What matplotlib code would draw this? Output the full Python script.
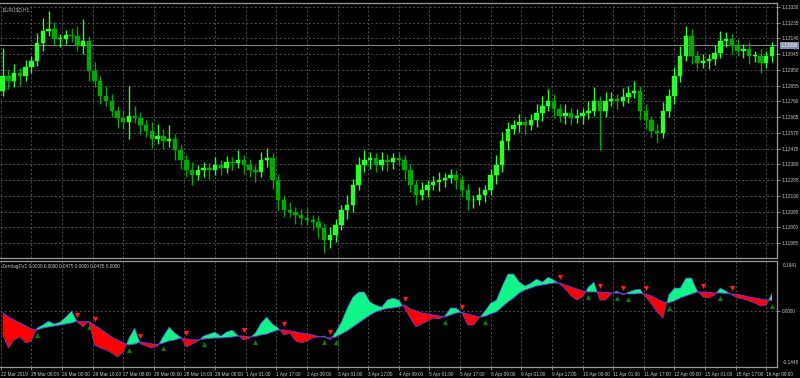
import matplotlib

matplotlib.use("Agg")

import matplotlib.pyplot as plt  # noqa: E402
import matplotlib.transforms as mtransforms  # noqa: E402
import numpy as np  # noqa: E402

plt.rcParams["font.family"] = ["Liberation Sans", "DejaVu Sans"]

# EURUSD H1 in 3-bar steps
first_open = 1.12825
closes = [
    1.12915, 1.12885, 1.12933, 1.12915, 1.12969, 1.13005, 1.13114, 1.13186, 1.13198, 1.13138,
    1.13138, 1.13162, 1.13156, 1.13096, 1.13126, 1.12945, 1.12885, 1.12795, 1.12765, 1.12705,
    1.12657, 1.12633, 1.12675, 1.12657, 1.12615, 1.12584, 1.12536, 1.12554, 1.12524, 1.12536,
    1.12464, 1.12404, 1.12344, 1.12314, 1.12344, 1.12356, 1.12344, 1.12374, 1.12356, 1.12392,
    1.12386, 1.12404, 1.12374, 1.12344, 1.12332, 1.12404, 1.12416, 1.12284, 1.12164, 1.12103,
    1.12091, 1.12073, 1.12055, 1.12043, 1.12031, 1.11995, 1.11923, 1.11953, 1.12013, 1.12103,
    1.12133, 1.12254, 1.12374, 1.12404, 1.12416, 1.12374, 1.12404, 1.12392, 1.12416, 1.12404,
    1.12344, 1.12254, 1.12194, 1.12224, 1.12254, 1.12272, 1.12284, 1.12296, 1.12314, 1.12284,
    1.12224, 1.12164, 1.12164, 1.12194, 1.12224, 1.12314, 1.12374, 1.12524, 1.12596, 1.12615,
    1.12633, 1.12615, 1.12645, 1.12693, 1.12735, 1.12765, 1.12717, 1.12675, 1.12693, 1.12657,
    1.12675, 1.12693, 1.12705, 1.12765, 1.12705, 1.12765, 1.12777, 1.12765, 1.12789, 1.12813,
    1.12825, 1.12705, 1.12645, 1.12584, 1.12572, 1.12705, 1.12795, 1.12915, 1.13035, 1.13156,
    1.13035, 1.12993, 1.13005, 1.13017, 1.13053, 1.13126, 1.13138, 1.13096, 1.13065, 1.13077,
    1.13035, 1.13035, 1.12993, 1.13035, 1.13090,
]
wick_up_pips = [
    17, 4, 5, 3, 4, 3, 6, 8, 11, 4, 3, 3, 4, 6, 13, 3, 5, 3, 6, 4,
    3, 5, 18, 6, 4, 3, 5, 7, 4, 8, 3, 4, 3, 5, 3, 4, 3, 5, 3, 4,
    3, 6, 3, 4, 3, 5, 6, 3, 4, 3, 5, 3, 4, 6, 3, 4, 3, 5, 4, 3,
    6, 4, 5, 6, 4, 3, 5, 4, 3, 4, 3, 4, 3, 5, 3, 4, 5, 3, 4, 3,
    3, 4, 3, 5, 3, 4, 6, 5, 4, 3, 5, 3, 4, 5, 6, 7, 4, 3, 5, 3,
    4, 3, 6, 8, 3, 5, 4, 3, 5, 4, 6, 3, 4, 3, 4, 5, 4, 5, 6, 6,
    4, 3, 4, 3, 5, 6, 4, 3, 4, 3, 4, 3, 4, 3, 3,
]
wick_dn_pips = [
    3, 5, 4, 6, 3, 4, 3, 5, 3, 4, 5, 3, 4, 3, 5, 6, 4, 5, 3, 4,
    6, 4, 10, 3, 5, 4, 6, 3, 5, 4, 6, 5, 4, 6, 3, 4, 5, 3, 4, 3,
    4, 3, 5, 4, 6, 3, 4, 5, 6, 4, 3, 5, 4, 3, 5, 6, 8, 5, 4, 3,
    5, 4, 3, 4, 5, 4, 3, 5, 4, 3, 5, 4, 6, 3, 4, 3, 5, 4, 3, 5,
    4, 6, 5, 3, 4, 3, 5, 4, 6, 3, 4, 5, 3, 4, 5, 3, 6, 4, 5, 4,
    3, 5, 4, 3, 24, 4, 3, 5, 3, 4, 3, 6, 5, 4, 6, 3, 4, 5, 4, 3,
    5, 4, 3, 5, 4, 3, 4, 5, 3, 4, 5, 4, 6, 3, 4,
]
current_price = 1.13098

# Zerolag indicator (main line and signal line), same 3-bar steps
zl_main = [
    -0.0931, -0.1436, -0.1125, -0.1009, -0.1242, -0.1164, -0.0660, -0.0543, -0.0388, -0.0504,
    -0.0427, -0.0233, 0.0000, -0.0427, -0.0621, -0.0388, -0.1319, -0.1436, -0.1513, -0.1630,
    -0.1785, -0.1591, -0.1048, -0.0660, -0.1280, -0.1358, -0.1436, -0.1358, -0.0970, -0.0621,
    -0.0854, -0.1009, -0.1397, -0.1280, -0.1164, -0.0970, -0.0892, -0.0815, -0.0970, -0.0815,
    -0.0737, -0.0951, -0.1125, -0.1048, -0.0854, -0.0466, -0.0233, -0.0504, -0.0660, -0.0931,
    -0.0854, -0.1164, -0.1242, -0.1164, -0.1048, -0.1009, -0.0970, -0.1125, -0.0815, -0.0427,
    0.0116, 0.0543, 0.0737, 0.0737, 0.0349, 0.0233, 0.0155, 0.0427, 0.0504, 0.0427,
    0.0116, -0.0272, -0.0621, -0.0504, -0.0388, -0.0272, -0.0310, -0.0194, 0.0116, 0.0116,
    -0.0078, -0.0543, -0.0543, -0.0272, 0.0000, 0.0310, 0.0427, 0.0970, 0.1436, 0.1436,
    0.1125, 0.0970, 0.1086, 0.1242, 0.1125, 0.1319, 0.1203, 0.1048, 0.0854, 0.0582,
    0.0427, 0.0543, 0.0931, 0.1125, 0.0427, 0.0427, 0.0660, 0.0776, 0.0621, 0.0737,
    0.0815, 0.0854, 0.0543, 0.0272, -0.0039, -0.0272, 0.0621, 0.0892, 0.0892, 0.1280,
    0.1280, 0.0776, 0.0543, 0.0504, 0.0621, 0.0892, 0.0776, 0.0621, 0.0504, 0.0466,
    0.0388, 0.0310, 0.0194, 0.0233, 0.0698,
]
zl_signal = [
    -0.0078, -0.0233, -0.0349, -0.0466, -0.0582, -0.0698, -0.0737, -0.0660, -0.0621, -0.0582,
    -0.0543, -0.0504, -0.0466, -0.0388, -0.0427, -0.0407, -0.0543, -0.0698, -0.0854, -0.1009,
    -0.1125, -0.1242, -0.1319, -0.1280, -0.1203, -0.1242, -0.1280, -0.1300, -0.1242, -0.1164,
    -0.1125, -0.1048, -0.1086, -0.1125, -0.1125, -0.1086, -0.1067, -0.1048, -0.1048, -0.1028,
    -0.1009, -0.0970, -0.0970, -0.1009, -0.0989, -0.0931, -0.0892, -0.0815, -0.0737, -0.0737,
    -0.0776, -0.0815, -0.0854, -0.0892, -0.0931, -0.0989, -0.1009, -0.1048, -0.1009, -0.0892,
    -0.0776, -0.0621, -0.0466, -0.0310, -0.0155, -0.0039, 0.0039, 0.0097, 0.0116, 0.0155,
    0.0233, 0.0078, 0.0000, -0.0078, -0.0116, -0.0155, -0.0194, -0.0233, -0.0155, -0.0078,
    -0.0058, -0.0116, -0.0175, -0.0233, -0.0213, -0.0116, -0.0039, 0.0155, 0.0349, 0.0504,
    0.0698, 0.0815, 0.0892, 0.0970, 0.1009, 0.1048, 0.1086, 0.1086, 0.1009, 0.0931,
    0.0854, 0.0776, 0.0737, 0.0737, 0.0737, 0.0718, 0.0698, 0.0698, 0.0679, 0.0660,
    0.0660, 0.0679, 0.0660, 0.0582, 0.0466, 0.0349, 0.0310, 0.0388, 0.0504, 0.0582,
    0.0660, 0.0737, 0.0737, 0.0718, 0.0698, 0.0698, 0.0679, 0.0660, 0.0640, 0.0601,
    0.0543, 0.0504, 0.0466, 0.0427, 0.0407,
]
zl_title = "ZerolagFV1 0.0000 0.0000 0.0475 0.0000 0.0475 0.0000"
zl_top_label = "0.1941"
zl_bottom_label = "-0.1448"

price_ticks = [
    1.13330, 1.13235, 1.13140, 1.13045, 1.12950, 1.12855, 1.12760, 1.12665,
    1.12570, 1.12475, 1.12380, 1.12285, 1.12190, 1.12095, 1.12000, 1.11905,
]
time_labels = [
    "22 Mar 2019", "25 Mar 08:00", "26 Mar 00:00", "26 Mar 16:00", "27 Mar 08:00",
    "28 Mar 00:00", "28 Mar 16:00", "29 Mar 08:00", "1 Apr 01:00", "1 Apr 17:00",
    "2 Apr 09:00", "3 Apr 01:00", "3 Apr 17:00", "4 Apr 09:00", "5 Apr 01:00",
    "5 Apr 17:00", "8 Apr 09:00", "9 Apr 01:00", "9 Apr 17:00", "10 Apr 09:00",
    "11 Apr 01:00", "11 Apr 17:00", "12 Apr 09:00", "15 Apr 01:00", "15 Apr 17:00",
    "16 Apr 09:00",
]

BARS_PER_CANDLE = 3
BARS_PER_LABEL = 16
BG = "black"
GRID = "#5a5a5a"
TEXT = "#c8c8c8"
BORDER = "#9a9a9a"
BULL = "#2cff2c"
BEAR = "#00a800"
UP_FILL = "#10f58a"
DOWN_FILL = "#ff0000"
LINE = "#6a3cd0"
FS = 3.4

W, H = 800, 378
fig = plt.figure(figsize=(W / 100, H / 100), dpi=100, facecolor=BG)
ax = fig.add_axes([0, 1 - 258 / H, 777 / W, 255 / H], facecolor=BG)
axi = fig.add_axes([0, 1 - 367 / H, 777 / W, 106 / H], facecolor=BG)

closes_a = np.array(closes)
opens_a = np.concatenate([[first_open], closes_a[:-1]])
highs = np.maximum(opens_a, closes_a) + np.array(wick_up_pips) * 1e-4
lows = np.minimum(opens_a, closes_a) - np.array(wick_dn_pips) * 1e-4
xs = np.arange(len(closes)) * BARS_PER_CANDLE + 1
time_ticks = np.arange(len(time_labels)) * BARS_PER_LABEL
xlim = (-0.4, 405.6)

# candles
bull = closes_a >= opens_a
colors = np.where(bull, BULL, BEAR)
ax.vlines(xs, lows, highs, colors=colors, lw=1.0, zorder=3)
bodies = np.maximum(np.abs(closes_a - opens_a), 0.00003)
ax.bar(xs, bodies, bottom=np.minimum(opens_a, closes_a), width=2.3,
       color=colors, edgecolor=colors, lw=0.3, zorder=3)

ax.axhline(current_price, color="#808080", lw=0.8, zorder=2)
ax.set_xlim(*xlim)
ax.set_ylim(1.11815, 1.13354)
ax.set_yticks(price_ticks)
ax.set_yticklabels([f"{p:.5f}" for p in price_ticks])
ax.set_xticks(time_ticks)
ax.tick_params(axis="x", bottom=False, labelbottom=False)
ax.yaxis.tick_right()
ax.tick_params(axis="y", colors=BORDER, labelcolor=TEXT, labelsize=FS,
               length=2, width=0.6, pad=1.2)
ax.grid(True, color=GRID, lw=0.6, ls=(0, (2.5, 2.5)))
trans = mtransforms.blended_transform_factory(ax.transAxes, ax.transData)
ax.text(1.0045, current_price, f"{current_price:.5f}", transform=trans,
        fontsize=FS, color="white", va="center", ha="left",
        bbox=dict(boxstyle="square,pad=0.2", fc="#8491a8", ec="none"),
        zorder=6)
ax.text(0.003, 0.985, "EURUSD,H1", transform=ax.transAxes, fontsize=FS,
        color=TEXT, va="top", ha="left")

# indicator
zm = np.array(zl_main)
zs = np.array(zl_signal)
axi.fill_between(xs, zm, zs, where=zm >= zs, interpolate=True,
                 color=UP_FILL, lw=0, zorder=2)
axi.fill_between(xs, zm, zs, where=zm < zs, interpolate=True,
                 color=DOWN_FILL, lw=0, zorder=2)
axi.plot(xs, zs, color=LINE, lw=0.7, zorder=3)
axi.plot(xs, zm, color=LINE, lw=0.5, zorder=3)

diff = zm - zs
cross_up = np.where((diff[:-1] < 0) & (diff[1:] >= 0))[0] + 1
cross_dn = np.where((diff[:-1] >= 0) & (diff[1:] < 0))[0] + 1
axi.scatter(xs[cross_up], np.minimum(zm, zs)[cross_up] - 0.02, marker="^",
            s=14, color="#0a7a0a", lw=0, zorder=4)
axi.scatter(xs[cross_dn], np.maximum(zm, zs)[cross_dn] + 0.022, marker="v",
            s=14, color="#ff2020", lw=0, zorder=4)

axi.set_xlim(*xlim)
axi.set_ylim(-0.2173, 0.194)
axi.set_yticks([0.0])
axi.set_yticklabels(["0.0000"])
axi.yaxis.tick_right()
axi.tick_params(axis="y", colors=BORDER, labelcolor=TEXT, labelsize=FS,
                length=2, width=0.6, pad=1.2)
axi.set_xticks(time_ticks)
axi.set_xticklabels(time_labels, ha="left")
axi.tick_params(axis="x", colors=BORDER, labelcolor=TEXT, labelsize=FS,
                length=2, width=0.6, pad=1.5)
axi.grid(True, color=GRID, lw=0.6, ls=(0, (2.5, 2.5)))
axi.text(1.0075, 0.985, zl_top_label, transform=axi.transAxes, fontsize=FS,
         color=TEXT, va="top", ha="left")
axi.text(1.0075, 0.015, zl_bottom_label, transform=axi.transAxes, fontsize=FS,
         color=TEXT, va="bottom", ha="left")
axi.text(0.003, 0.97, zl_title, transform=axi.transAxes, fontsize=FS,
         color=TEXT, va="top", ha="left")

for a in (ax, axi):
    a.spines["left"].set_visible(False)
    for side in ("top", "right", "bottom"):
        a.spines[side].set_color(BORDER)
        a.spines[side].set_linewidth(0.9)

fig.savefig("out.png", dpi=100, facecolor=BG)
